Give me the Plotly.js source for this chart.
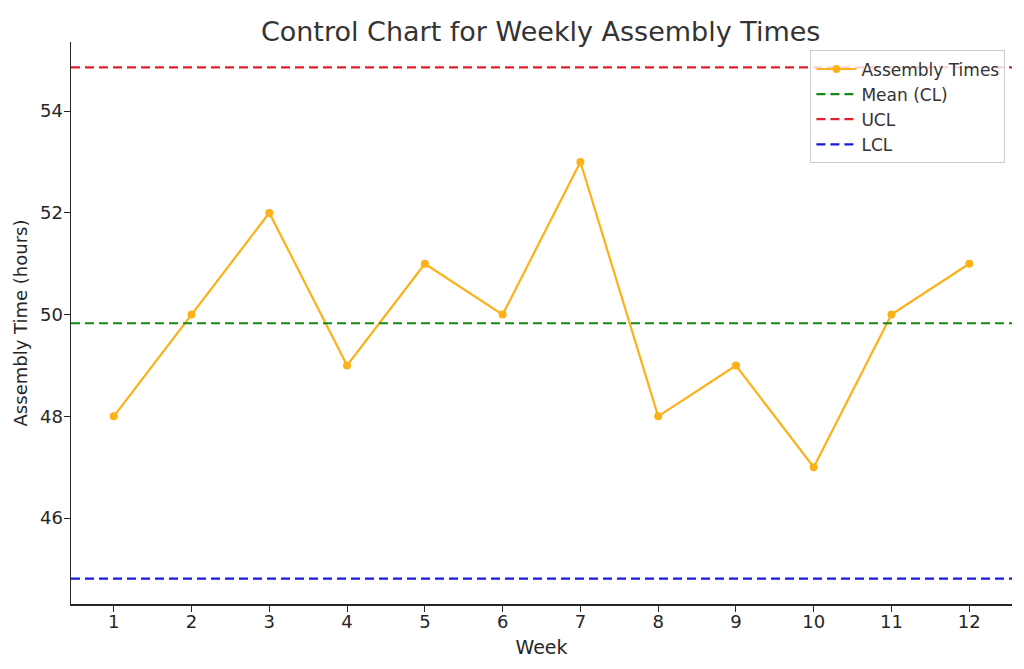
<!DOCTYPE html>
<html><head><meta charset="utf-8">
<script src="https://cdn.plot.ly/plotly-3.0.1.min.js"></script>
<style>html,body{margin:0;padding:0;background:#fff}#chart{width:1024px;height:669px}</style>
</head><body><div id="chart"></div>
<script>
const weeks = [1,2,3,4,5,6,7,8,9,10,11,12];
const assemblyTimes = [48,50,52,49,51,50,53,48,49,47,50,51];
const meanCL = 49.83;
const ucl = 54.86;
const lcl = 44.81;
const xTickLabels = ['1','2','3','4','5','6','7','8','9','10','11','12'];
const xr = [0.45, 12.55];

const font = 'DejaVu Sans, sans-serif';
const traces = [
  {x: weeks, y: assemblyTimes, name: 'Assembly Times', mode: 'lines+markers',
   line: {color: '#FBB117', width: 2.2}, marker: {color: '#FBB117', size: 8}},
  {x: xr, y: [meanCL, meanCL], name: 'Mean (CL)', mode: 'lines',
   line: {color: '#138A13', width: 2.2, dash: '9px,5px'}},
  {x: xr, y: [ucl, ucl], name: 'UCL', mode: 'lines',
   line: {color: '#E5202A', width: 2.2, dash: '9px,5px'}},
  {x: xr, y: [lcl, lcl], name: 'LCL', mode: 'lines',
   line: {color: '#1A1ADB', width: 2.2, dash: '9px,5px'}}
];
const layout = {
  width: 1024, height: 669,
  margin: {l: 71, r: 12, t: 42, b: 65},
  paper_bgcolor: '#fff', plot_bgcolor: '#fff',
  font: {family: font, color: '#262626'},
  title: {text: 'Control Chart for Weekly Assembly Times', font: {size: 27, color: '#333'}, x: 0.528, xanchor: 'center', y: 0.967},
  xaxis: {range: xr, tickvals: weeks, ticktext: xTickLabels, showgrid: false, zeroline: false,
    showline: true, linecolor: '#262626', linewidth: 1.5, ticks: 'outside', ticklen: 6, tickcolor: '#262626',
    ticklabelstandoff: -5,
    tickfont: {size: 18}, title: {text: 'Week', font: {size: 19}, standoff: 9}},
  yaxis: {range: [44.31, 55.36], tickvals: [46,48,50,52,54], showgrid: false, zeroline: false,
    showline: true, linecolor: '#262626', linewidth: 1.5, ticks: 'outside', ticklen: 6, tickcolor: '#262626',
    ticklabelstandoff: -3,
    tickfont: {size: 18}, title: {text: 'Assembly Time (hours)', font: {size: 18}, standoff: 7}},
  legend: {x: 0.993, y: 0.985, xanchor: 'right', yanchor: 'top', bgcolor: 'rgba(255,255,255,0.8)',
    bordercolor: '#ccc', borderwidth: 1, font: {size: 17, color: '#333'}, tracegroupgap: 0, itemwidth: 40},
  showlegend: true
};
Plotly.newPlot('chart', traces, layout, {displayModeBar: false, staticPlot: true});
</script></body></html>
